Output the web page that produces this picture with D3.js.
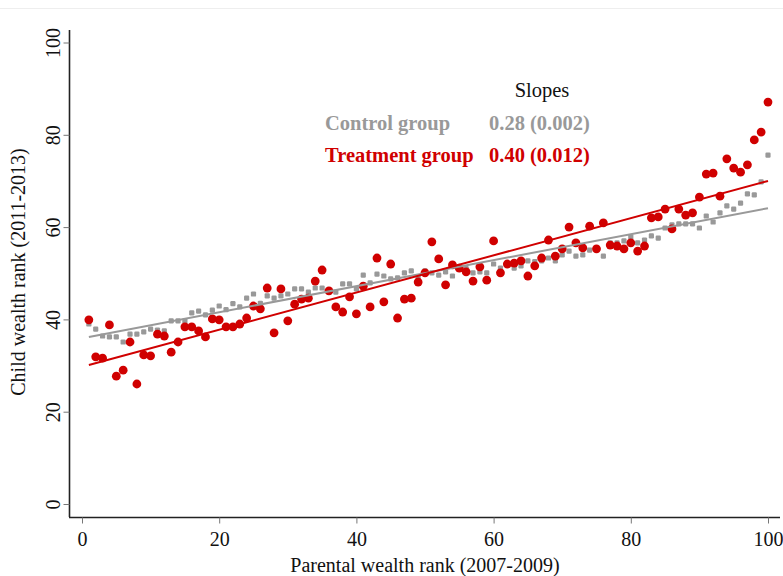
<html>
<head>
<script src="https://cdn.jsdelivr.net/npm/d3@7"></script>
<style>
  body { margin: 0; background: #fff; }
  text { font-family: "Liberation Serif", "Times New Roman", serif; }
</style>
</head>
<body>
<script>
// parental rank 1..100
var ranks = d3.range(1, 101);

var controlY = [
  39.0, 37.9, 36.4, 36.2, 36.2, 35.1, 36.8, 36.8, 37.3, 37.9,
  37.7, 37.5, 39.7, 39.7, 39.7, 41.4, 41.8, 41.0, 42.0, 42.9,
  42.1, 43.4, 42.7, 44.6, 45.5, 43.5, 45.1, 44.6, 45.1, 45.5,
  46.6, 46.6, 45.9, 46.8, 46.8, 45.9, 45.9, 47.7, 47.7, 46.6,
  49.6, 47.9, 49.8, 49.4, 48.8, 49.0, 50.1, 50.5, 49.2, 50.5,
  50.1, 49.6, 50.3, 49.4, 51.1, 51.0, 50.1, 50.3, 50.1, 52.0,
  51.1, 51.8, 51.1, 51.6, 52.7, 52.5, 52.7, 53.3, 52.7, 54.0,
  54.8, 53.7, 54.0, 55.0, 55.3, 53.7, 56.6, 56.6, 57.0, 57.9,
  56.6, 57.2, 58.1, 57.6, 59.8, 60.5, 60.7, 60.7, 60.7, 59.8,
  62.4, 61.1, 63.1, 64.6, 63.9, 65.2, 67.2, 67.0, 69.8, 75.6
];

var treatY = [
  39.9, 31.9, 31.6, 38.8, 27.7, 29.0, 35.1, 26.0, 32.3, 32.1,
  36.8, 36.4, 32.9, 35.1, 38.4, 38.4, 37.5, 36.2, 40.1, 39.9,
  38.4, 38.4, 39.0, 40.3, 42.9, 42.3, 46.8, 37.1, 46.6, 39.7,
  43.3, 44.4, 44.6, 48.3, 50.7, 46.2, 42.7, 41.6, 44.9, 41.2,
  47.2, 42.7, 53.3, 43.8, 52.0, 40.3, 44.4, 44.6, 48.1, 50.1,
  56.8, 53.1, 47.5, 51.8, 51.1, 50.3, 48.3, 51.4, 48.5, 57.0,
  50.1, 52.0, 52.2, 52.7, 49.4, 51.6, 53.3, 57.2, 53.7, 55.3,
  60.0, 56.6, 55.5, 60.2, 55.3, 60.9, 56.1, 55.9, 55.3, 56.6,
  54.8, 55.9, 62.0, 62.2, 63.9, 59.6, 63.9, 62.6, 63.1, 66.5,
  71.5, 71.7, 66.7, 74.8, 72.8, 71.9, 73.5, 78.9, 80.6, 87.1
];

// fitted lines
var controlFit = [[1, 36.2], [100, 64.1]];
var treatFit = [[1, 30.1], [100, 70.0]];

var xTicks = [0, 20, 40, 60, 80, 100];
var yTicks = [0, 20, 40, 60, 80, 100];

var legendRows = [
  {label: 'Control group', slope: '0.28 (0.002)', color: '#999999'},
  {label: 'Treatment group', slope: '0.40 (0.012)', color: '#d00000'}
];

var width = 783, height = 576;

var svg = d3.select('body').append('svg')
  .attr('width', width)
  .attr('height', height);

// faint frame line at top
svg.append('line')
  .attr('x1', 0).attr('x2', width)
  .attr('y1', 8.5).attr('y2', 8.5)
  .attr('stroke', '#eeeeee');

var x = d3.scaleLinear().domain([0, 100]).range([82, 768]);
var y = d3.scaleLinear().domain([0, 100]).range([504, 42.5]);

// axes
var xAxis = svg.append('g')
  .attr('transform', 'translate(0,517.5)')
  .call(d3.axisBottom(x).tickValues(xTicks).tickSize(6).tickPadding(8).tickSizeOuter(0));
xAxis.select('.domain').attr('d', 'M69,0H780').attr('stroke', '#222').attr('stroke-width', 1.6);
xAxis.selectAll('.tick line').attr('stroke', '#777');
xAxis.selectAll('.tick text').attr('font-size', 20).attr('fill', '#111')
  .attr('font-family', '"Liberation Serif", serif');

var yAxis = svg.append('g')
  .attr('transform', 'translate(69.5,0)')
  .call(d3.axisLeft(y).tickValues(yTicks).tickSize(6).tickPadding(6).tickSizeOuter(0));
yAxis.select('.domain').attr('d', 'M0,30V517').attr('stroke', '#222').attr('stroke-width', 1.6);
yAxis.selectAll('.tick line').attr('stroke', '#777');
yAxis.selectAll('.tick text')
  .attr('font-size', 20).attr('fill', '#111')
  .attr('font-family', '"Liberation Serif", serif')
  .attr('x', null).attr('dy', null)
  .attr('text-anchor', 'middle')
  .attr('transform', 'translate(-17,0) rotate(-90)')
  .attr('y', 0)
  .attr('dominant-baseline', 'central');

// axis titles
svg.append('text')
  .attr('x', 425).attr('y', 572)
  .attr('text-anchor', 'middle')
  .attr('font-size', 20)
  .attr('fill', '#111')
  .text('Parental wealth rank (2007-2009)');

svg.append('text')
  .attr('transform', 'translate(25,272) rotate(-90)')
  .attr('text-anchor', 'middle')
  .attr('font-size', 20)
  .attr('fill', '#111')
  .text('Child wealth rank (2011-2013)');

// points
svg.append('g').selectAll('rect')
  .data(ranks)
  .enter().append('rect')
  .attr('x', d => x(d) - 2.6)
  .attr('y', (d, i) => y(controlY[i]) - 2.6)
  .attr('width', 5.2).attr('height', 5.2)
  .attr('rx', 1.2)
  .attr('fill', '#999999');

svg.append('g').selectAll('circle')
  .data(ranks)
  .enter().append('circle')
  .attr('cx', d => x(d))
  .attr('cy', (d, i) => y(treatY[i]))
  .attr('r', 4.4)
  .attr('fill', '#d00000');

// fitted lines
var line = d3.line().x(d => x(d[0])).y(d => y(d[1]));
svg.append('path').datum(controlFit)
  .attr('d', line).attr('fill', 'none')
  .attr('stroke', '#999999').attr('stroke-width', 2);
svg.append('path').datum(treatFit)
  .attr('d', line).attr('fill', 'none')
  .attr('stroke', '#d00000').attr('stroke-width', 2);

// slopes legend
svg.append('text')
  .attr('x', 542).attr('y', 97)
  .attr('text-anchor', 'middle')
  .attr('font-size', 20.5)
  .attr('fill', '#111')
  .text('Slopes');

var rows = svg.append('g').selectAll('g')
  .data(legendRows)
  .enter().append('g')
  .attr('transform', (d, i) => 'translate(0,' + (130 + i * 32) + ')');
rows.append('text')
  .attr('x', 325)
  .attr('font-size', 20.5).attr('font-weight', 'bold')
  .attr('fill', d => d.color)
  .text(d => d.label);
rows.append('text')
  .attr('x', 489)
  .attr('font-size', 20.5).attr('font-weight', 'bold')
  .attr('fill', d => d.color)
  .text(d => d.slope);
</script>
</body>
</html>
